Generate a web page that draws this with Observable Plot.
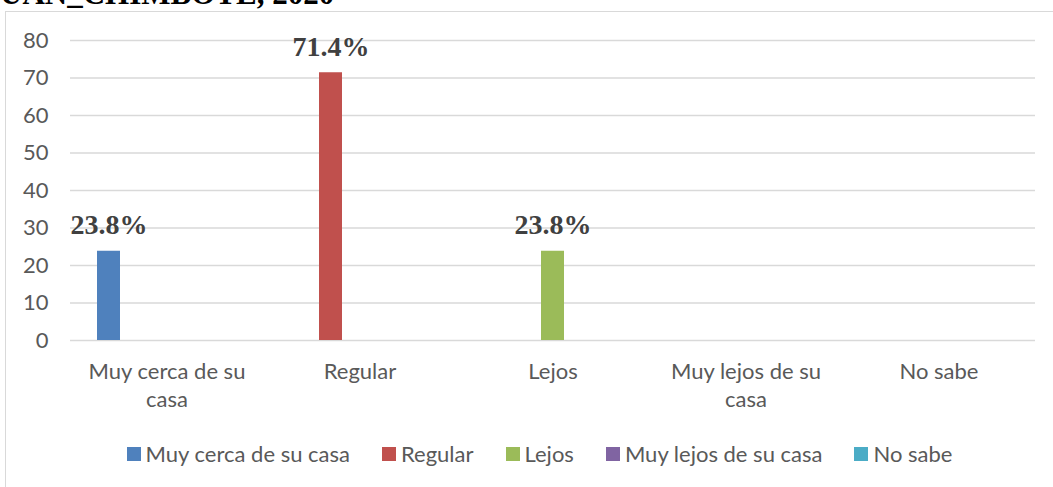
<!DOCTYPE html>
<html>
<head>
<meta charset="utf-8">
<script src="https://cdn.jsdelivr.net/npm/d3@7"></script>
<script src="https://cdn.jsdelivr.net/npm/@observablehq/plot@0.6"></script>
<style>
  html, body { margin: 0; padding: 0; background: #fff; }
  #wrap { position: relative; width: 1053px; height: 487px; overflow: hidden; background: #fff; }
  #title { position: absolute; left: 0; top: -22px; font: bold 31px/31px "Liberation Serif", "Times New Roman", serif; color: #000; white-space: nowrap; }
  #frame { position: absolute; left: 5px; top: 11px; width: 1100px; height: 500px; border: 1.5px solid #d9d9d9; box-sizing: border-box; }
  #chart { position: absolute; left: 0; top: 0; }
  #legend { position: absolute; left: 0; width: 1079px; top: 440px; display: flex; justify-content: center; font: 22px Lato, sans-serif; color: #595959; }
  .item { display: flex; align-items: center; margin: 0 16px; white-space: nowrap; }
  .sw { width: 14px; height: 14px; margin-right: 5px; }
</style>
</head>
<body>
<div id="wrap">
  <div id="title">UAN_CHIMBOTE, 2020</div>
  <div id="frame"></div>
  <div id="chart"></div>
  <div id="legend"></div>
</div>
<script>
const categories = ["Muy cerca de su casa", "Regular", "Lejos", "Muy lejos de su casa", "No sabe"];
const tickLabels = ["Muy cerca de su\ncasa", "Regular", "Lejos", "Muy lejos de su\ncasa", "No sabe"];
const values = [23.8, 71.4, 23.8, 0, 0];
const colors = ["#4f81bd", "#c0504d", "#9bbb59", "#8064a2", "#4bacc6"];
const yTicks = [0, 10, 20, 30, 40, 50, 60, 70, 80];

const data = categories.map((c, i) => ({category: c, series: c, value: values[i]}));
const labelOf = new Map(categories.map((c, i) => [c, tickLabels[i]]));

const plot = Plot.plot({
  width: 1053,
  height: 420,
  marginLeft: 69,
  marginRight: 17,
  marginTop: 40,
  marginBottom: 80,
  style: {fontFamily: "Lato, sans-serif", fontSize: "22px", color: "#595959", background: "transparent"},
  fx: {domain: categories, padding: 0},
  x: {domain: categories, paddingInner: 0.2, paddingOuter: 0.823, axis: null},
  y: {domain: [0, 80]},
  color: {domain: categories, range: colors},
  marks: [
    Plot.gridY(yTicks, {stroke: "#d9d9d9", strokeOpacity: 1, strokeWidth: 1.5}),
    Plot.axisY(yTicks, {tickSize: 0, tickPadding: 22, label: null, fill: "#595959", fontSize: 22}),
    Plot.axisFx({anchor: "bottom", tickSize: 0, tickPadding: 19, label: null, tickFormat: d => labelOf.get(d), lineHeight: 1.25, fill: "#595959", fontSize: 22}),
    Plot.barY(data, {fx: "category", x: "series", y: "value", fill: "series"}),
    Plot.text(data.filter(d => d.value > 0), {
      fx: "category", x: "series", y: "value",
      text: d => d.value.toFixed(1) + "%",
      lineAnchor: "bottom", dy: -17,
      fontFamily: "Liberation Serif, Times New Roman, serif",
      fontWeight: "bold", fontSize: 28, fill: "#404040"
    })
  ]
});
document.getElementById("chart").appendChild(plot);

const legend = document.getElementById("legend");
categories.forEach((c, i) => {
  const item = document.createElement("div");
  item.className = "item";
  const sw = document.createElement("span");
  sw.className = "sw";
  sw.style.background = colors[i];
  const t = document.createElement("span");
  t.textContent = c;
  item.appendChild(sw);
  item.appendChild(t);
  legend.appendChild(item);
});
</script>
</body>
</html>
